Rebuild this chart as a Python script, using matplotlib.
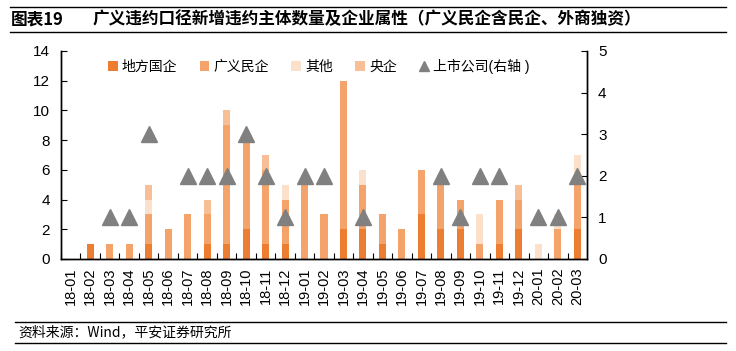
import numpy as np
import matplotlib
matplotlib.use('Agg')
import matplotlib.pyplot as plt
from matplotlib.patches import Patch
from matplotlib.lines import Line2D

plt.rcParams['font.family'] = ['Liberation Sans', 'Noto Sans CJK SC', 'DejaVu Sans']

months = ['18-01', '18-02', '18-03', '18-04', '18-05', '18-06', '18-07', '18-08', '18-09',
          '18-10', '18-11', '18-12', '19-01', '19-02', '19-03', '19-04', '19-05', '19-06',
          '19-07', '19-08', '19-09', '19-10', '19-11', '19-12', '20-01', '20-02', '20-03']
local_soe = [0, 1, 0, 0, 1, 0, 0, 1, 1, 2, 1, 1, 0, 0, 2, 2, 1, 0, 3, 2, 2, 0, 1, 2, 0, 0, 2]
private = [0, 0, 1, 1, 2, 2, 3, 2, 8, 6, 5, 3, 5, 3, 10, 3, 2, 2, 3, 3, 2, 1, 3, 2, 0, 2, 3]
other = [0, 0, 0, 0, 1, 0, 0, 0, 0, 0, 0, 1, 0, 0, 0, 1, 0, 0, 0, 0, 0, 2, 0, 0, 1, 1, 2]
central = [0, 0, 0, 0, 1, 0, 0, 1, 1, 0, 1, 0, 0, 0, 0, 0, 0, 0, 0, 0, 0, 0, 0, 1, 0, 0, 0]
listed = [np.nan, np.nan, 1, 1, 3, np.nan, 2, 2, 2, 3, 2, 1, 2, 2, np.nan, 1, np.nan, np.nan,
          np.nan, 2, 1, 2, 2, np.nan, 1, 1, 2]

series = [('地方国企', local_soe, '#ED7D31'),
          ('广义民企', private, '#F4A46B'),
          ('其他', other, '#FBE0CC'),
          ('央企', central, '#F8BF96')]

fig = plt.figure(figsize=(7.36, 3.51), dpi=100)
ax = fig.add_axes([61 / 736, 92 / 351, 526 / 736, 208 / 351])
x = np.arange(len(months))

bottom = np.zeros(len(months))
handles = []
for name, vals, col in series:
    ax.bar(x, vals, width=0.36, bottom=bottom, color=col, linewidth=0)
    bottom += np.array(vals)
    handles.append(Patch(facecolor=col, label=name))

ax2 = ax.twinx()
ax2.plot(x, listed, linestyle='none', marker='^', markersize=11, color='#808080')
handles.append(Line2D([], [], linestyle='none', marker='^', markersize=7,
                      color='#808080', label='上市公司(右轴 )'))

ax.set_xlim(-0.5, len(months) - 0.5)
ax.set_ylim(0, 14)
ax.set_yticks(range(0, 15, 2))
ax2.set_ylim(0, 5)
ax2.set_yticks(range(0, 6))

ax.set_xticks(x)
ax.set_xticklabels(months, rotation=90, fontsize=10.5)
ax.set_xticks(x - 0.5, minor=True)
ax.tick_params(axis='x', which='major', length=0, pad=6)
ax.tick_params(axis='x', which='minor', direction='in', length=4, width=0.8)
ax.tick_params(axis='y', direction='in', length=4, width=0.8, labelsize=11, pad=8)
ax2.tick_params(axis='y', direction='in', length=4, width=0.8, labelsize=11, pad=8)

for a in (ax, ax2):
    a.spines['top'].set_visible(False)
    for s in ('left', 'right', 'bottom'):
        a.spines[s].set_linewidth(1.0)

leg = ax.legend(handles=handles, loc='center', bbox_to_anchor=(0.49, 0.925), ncol=5,
                frameon=False, fontsize=10, handlelength=0.7, handleheight=0.7,
                handletextpad=0.3, columnspacing=1.6)

# title bar
fig.add_artist(Line2D([10 / 736, 726 / 736], [1 - 7 / 351, 1 - 7 / 351], color='black', lw=1))
fig.add_artist(Line2D([10 / 736, 726 / 736], [1 - 32 / 351, 1 - 32 / 351], color='black', lw=1))
fig.text(11 / 736, 1 - 19.5 / 351, '图表19', fontsize=12, fontweight='bold', va='center',
         family=['Noto Sans CJK SC'])
fig.text(93 / 736, 1 - 19.5 / 351, '广义违约口径新增违约主体数量及企业属性（广义民企含民企、外商独资）',
         fontsize=12, fontweight='bold', va='center', family=['Noto Sans CJK SC'])

# source
fig.add_artist(Line2D([15 / 736, 726 / 736], [1 - 322 / 351, 1 - 322 / 351], color='black', lw=1))
fig.add_artist(Line2D([15 / 736, 726 / 736], [1 - 343 / 351, 1 - 343 / 351], color='black', lw=1))
fig.text(18 / 736, 1 - 332.5 / 351, '资料来源：Wind，平安证券研究所', fontsize=10, style='italic',
         va='center', family=['Noto Sans CJK SC', 'DejaVu Sans'])

fig.savefig('out.png', dpi=100)
